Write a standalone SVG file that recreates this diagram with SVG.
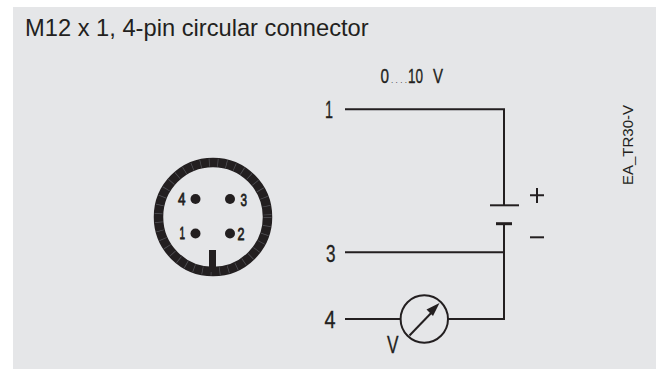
<svg xmlns="http://www.w3.org/2000/svg" width="664" height="369" viewBox="0 0 664 369">
<style>
.w{fill:none;stroke:#231f20;stroke-width:2}
.n{font-family:"Liberation Sans",sans-serif;fill:#231f20;stroke:#231f20;stroke-width:0.35}
.l{font-size:23.500px}
.p{font-size:17px;stroke-width:0.8}
.pin{fill:#231f20}
</style>
<rect x="13" y="7" width="643" height="362" fill="#e5e6e8"/>
<text x="25" y="36" font-family="'Liberation Sans',Arial,sans-serif" font-size="23.700" fill="#231f20">M12 x 1, 4-pin circular connector</text>
<text transform="translate(633,185) rotate(-90)" font-family="'Liberation Sans',Arial,sans-serif" font-size="15" fill="#231f20">EA_TR30-V</text>
<g id="connector">
<circle cx="213" cy="217" r="54.500" fill="none" stroke="#231f20" stroke-width="9.500"/>
<circle cx="213" cy="217" r="54.500" fill="none" stroke="#55555a" stroke-width="8" stroke-dasharray="0.7 8"/>
<rect x="209" y="250" width="7" height="22" fill="#231f20"/>
<g id="pin-4"><circle class="pin" cx="195.500" cy="199" r="5"/><text class="n p" x="178" y="204.500" textLength="7.500" lengthAdjust="spacingAndGlyphs">4</text></g>
<g id="pin-3"><circle class="pin" cx="230" cy="199" r="5"/><text class="n p" x="240.500" y="205.500" textLength="6.500" lengthAdjust="spacingAndGlyphs">3</text></g>
<g id="pin-1"><circle class="pin" cx="195.500" cy="233.500" r="5"/><text class="n p" x="179.500" y="238.500" textLength="5.500" lengthAdjust="spacingAndGlyphs">1</text></g>
<g id="pin-2"><circle class="pin" cx="230" cy="233.500" r="5"/><text class="n p" x="237.500" y="239.500" textLength="7" lengthAdjust="spacingAndGlyphs">2</text></g>
</g>
<g id="connectors">
<path class="w" d="M345 109.300H504V205"/>
<path class="w" d="M490 205.300H519"/>
<path d="M496 223.700H512" fill="none" stroke="#231f20" stroke-width="3"/>
<path class="w" d="M504 224V319H448"/>
<path class="w" d="M345 252.300H504"/>
<path class="w" d="M345 319H400.600"/>
<path class="w" d="M409.500 335.500L435 309"/>
</g>
<g id="battery-labels">
<path class="w" d="M530 195.300H544M537 188V203"/>
<path class="w" d="M530 237.300H544"/>
</g>
<g id="meter">
<circle class="w" cx="424.300" cy="319" r="23.700"/>
<path d="M439.500 303L433 316L426.500 309.500Z" fill="#231f20"/>
<text class="n l" x="387" y="352.500" textLength="11.500" lengthAdjust="spacingAndGlyphs">V</text>
</g>
<g id="terminal-1"><text class="n l" x="325" y="118.300" textLength="8" lengthAdjust="spacingAndGlyphs">1</text></g>
<g id="terminal-3"><text class="n l" x="326" y="262" textLength="9.500" lengthAdjust="spacingAndGlyphs">3</text></g>
<g id="terminal-4"><text class="n l" x="324.500" y="327.500" textLength="11" lengthAdjust="spacingAndGlyphs">4</text></g>
<text class="n l" x="380.500" y="83.300" textLength="8.500" lengthAdjust="spacingAndGlyphs" style="font-size:21px">0</text>
<text font-family="'Liberation Sans',sans-serif" fill="#231f20" x="391" y="83.300" font-size="8" textLength="16">....</text>
<text class="n l" x="408" y="83.300" textLength="15" lengthAdjust="spacingAndGlyphs" style="font-size:21px">10</text>
<text class="n l" x="433" y="83.300" textLength="10" lengthAdjust="spacingAndGlyphs" style="font-size:21px">V</text>
</svg>
